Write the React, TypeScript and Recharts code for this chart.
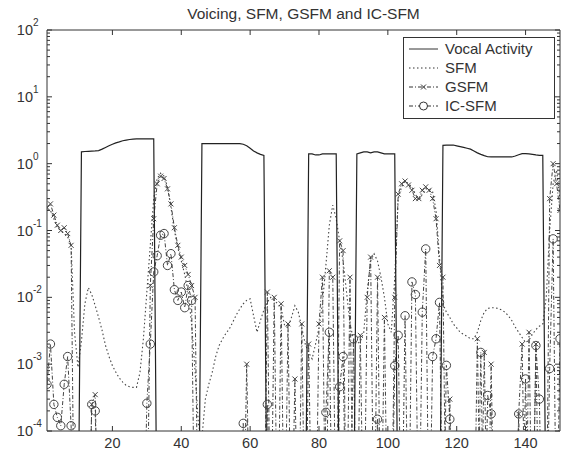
import React from 'react';
import { LineChart, Line, XAxis, YAxis } from 'recharts';

// values below the 1e-4 floor are drawn off the bottom of the plot
const L = 1e-6;

const frames = Array.from({ length: 150 }, (_, i) => i + 1);

const vocalActivity = [
  L, L, L, L, L, L, L, L, L, L,
  1.5, 1.52, 1.53, 1.54, 1.55, 1.57, 1.65, 1.75, 1.85, 1.95,
  2.05, 2.12, 2.2, 2.25, 2.3, 2.33, 2.35, 2.35, 2.35, 2.35,
  2.35, 2.35, L, L, L, L, L, L, L, L,
  L, L, L, L, L, 2.0, 2.0, 2.0, 2.0, 2.0,
  2.0, 2.0, 2.0, 2.0, 2.0, 2.0, 2.0, 1.95, 1.85, 1.7,
  1.55, 1.45, 1.38, 1.33, L, L, L, L, L, L,
  L, L, L, L, L, L, 1.4, 1.4, 1.35, 1.35,
  1.4, 1.4, 1.4, 1.4, 1.4, L, L, L, L, L,
  1.4, 1.45, 1.5, 1.5, 1.45, 1.5, 1.5, 1.45, 1.4, 1.4,
  1.4, 1.4, L, L, L, L, L, L, L, L,
  L, L, L, L, L, 1.88, 1.9, 1.9, 1.9, 1.85,
  1.8, 1.75, 1.7, 1.65, 1.55, 1.45, 1.38, 1.32, 1.27, 1.26,
  1.26, 1.26, 1.26, 1.26, 1.26, 1.26, 1.3, 1.36, 1.41, 1.41,
  1.4, 1.38, 1.35, 1.33, 1.33, L, L, L, L, L,
];

const sfm = [
  0.2, 0.2, 0.15, 0.11, 0.1, 0.09, 0.08, 0.06, 0.003, 9e-4,
  2.2e-3, 8e-3, 0.014, 0.011, 0.0075, 0.005, 0.0032, 0.0019, 0.0013, 9.5e-4,
  7.6e-4, 6.2e-4, 5.4e-4, 4.8e-4, 4.6e-4, 4.5e-4, 4.5e-4, 7.5e-4, 2.4e-3, 0.012,
  0.06, 0.3, 0.6, 0.72, 0.65, 0.45, 0.22, 0.1, 0.055, 0.035,
  0.022, 0.012, 0.004, 8e-4, 1.2e-4, 8e-5, 3e-4, 5e-4, 7.6e-4, 1.3e-3,
  1.9e-3, 2.4e-3, 2.9e-3, 3.4e-3, 4.3e-3, 5.5e-3, 6.7e-3, 8e-3, 9e-3, 9.5e-3,
  5.3e-3, 3e-3, 4.5e-3, 6.5e-3, 8.5e-3, 0.01, 9e-3, 8e-3, 7e-3, 3.8e-3,
  3.5e-3, 5e-3, 7.5e-3, 6e-3, 3.5e-3, 2e-3, 1.5e-3, 1.2e-3, 2e-3, 3.5e-3,
  8e-3, 0.03, 0.12, 0.24, 0.15, 0.07, 0.035, 0.012, 4e-3, 2.4e-3,
  2e-3, 2.2e-3, 3e-3, 0.012, 0.035, 0.045, 0.035, 0.02, 0.01, 4e-3,
  3e-3, 0.02, 0.3, 0.45, 0.55, 0.5, 0.45, 0.35, 0.28, 0.35,
  0.42, 0.42, 0.38, 0.2, 0.04, 8e-3, 6e-3, 5e-3, 4e-3, 3.5e-3,
  3e-3, 2.8e-3, 2.6e-3, 2.4e-3, 2.4e-3, 3e-3, 4.5e-3, 6e-3, 6.8e-3, 7e-3,
  7e-3, 6.8e-3, 6.5e-3, 6e-3, 5.3e-3, 4.5e-3, 3.6e-3, 3e-3, 2.5e-3, 2.1e-3,
  2.3e-3, 2.8e-3, 3.3e-3, 3.7e-3, 4e-3, 0.01, 0.1, 0.5, 0.8, 0.3,
];

const gsfm = [
  0.22, 0.25, 0.17, 0.12, 0.1, 0.11, 0.09, 0.06, L, L,
  L, L, L, 2.5e-4, 3.5e-4, L, L, L, L, L,
  L, L, L, L, L, L, L, L, L, L,
  0.015, 0.15, 0.5, 0.65, 0.6, 0.42, 0.25, 0.11, 0.06, 0.04,
  0.03, 0.022, 0.015, 0.01, L, L, L, L, L, L,
  L, L, L, L, L, L, L, L, 1e-3, L,
  L, L, L, L, 0.012, L, 0.01, L, 0.008, L,
  0.004, L, 6e-4, L, 0.004, L, 2e-3, L, L, 0.004,
  0.02, L, 0.025, 0.02, L, 0.07, 0.05, L, 0.02, L,
  L, 2.7e-3, L, 0.01, 0.04, L, 0.02, L, 5e-3, L,
  L, 0.01, 0.35, 0.5, 0.55, 0.48, 0.4, 0.3, 0.3, 0.4,
  0.45, 0.4, 0.3, 0.15, 0.03, 0.02, L, 3e-4, L, L,
  L, L, L, L, L, 2.4e-3, L, 1.5e-3, L, 1e-3,
  L, L, L, L, L, L, L, 1.8e-4, 2e-3, L,
  3e-3, L, 2e-3, L, L, L, 0.3, 1.0, 0.5, 0.2,
];

const icSfm = [
  5e-4, 2e-3, 2.5e-4, 1.6e-4, 1.2e-4, 5e-4, 1.3e-3, 1.2e-4, L, L,
  L, L, L, 2.5e-4, 2e-4, L, L, L, L, L,
  L, L, L, L, L, L, L, L, L, 2.6e-4,
  2e-3, 0.024, 0.042, 0.085, 0.09, 0.03, 0.045, 0.013, 0.009, 0.012,
  0.007, 0.015, 0.009, L, L, L, L, L, L, L,
  L, L, L, L, L, L, L, 1.3e-4, L, L,
  L, L, L, L, 2.5e-4, L, L, L, L, L,
  L, L, L, L, L, L, L, L, L, L,
  L, 1.9e-4, 3e-3, L, L, 4.6e-4, 1.3e-3, L, L, 2.4e-3,
  L, L, L, L, L, L, 1.5e-4, L, L, L,
  L, 9.5e-4, 2.7e-3, L, 5.3e-3, L, 0.017, 0.011, L, 6e-3,
  0.053, L, 1.3e-3, 2.4e-3, 8.4e-3, L, 9.6e-4, 1.5e-4, L, L,
  L, L, L, L, L, L, 1.5e-3, L, 3.4e-4, 1.8e-4,
  L, L, L, L, L, L, L, 1.8e-4, L, 6e-4,
  L, L, 1.9e-3, 3e-4, L, L, 8.6e-4, 0.075, L, 2.4e-3,
];

const xTicks = [20, 40, 60, 80, 100, 120, 140];
const decades = [1e-4, 1e-3, 1e-2, 1e-1, 1, 10, 100];
const yTicks = decades.concat(
  decades.slice(0, -1).flatMap((d) => [2, 3, 4, 5, 6, 7, 8, 9].map((m) => m * d))
);

const data = frames.map((x, i) => ({
  x,
  va: vocalActivity[i],
  sfm: sfm[i],
  gsfm: gsfm[i],
  ic: icSfm[i],
}));

const FONT = '"Liberation Sans", Arial, Helvetica, sans-serif';
const INK = '#333';

const isMajor = (v: number) => Math.abs(Math.log10(v) - Math.round(Math.log10(v))) < 1e-6;

const LeftTick = (props: any) => {
  const { x, y, payload } = props;
  const v = payload.value;
  const major = isMajor(v);
  return (
    <g>
      <line x1={x} x2={x + (major ? 5 : 3)} y1={y} y2={y} stroke={INK} strokeWidth={1} />
      {major && (
        <g fill={INK} fontFamily={FONT}>
          <text x={x - 14} y={y + 5} textAnchor="end" fontSize={14.5}>10</text>
          <text x={x - 14} y={y - 4} textAnchor="start" fontSize={10}>
            {Math.round(Math.log10(v))}
          </text>
        </g>
      )}
    </g>
  );
};

const RightTick = (props: any) => {
  const { x, y, payload } = props;
  const major = isMajor(payload.value);
  return <line x1={x} x2={x - (major ? 5 : 3)} y1={y} y2={y} stroke={INK} strokeWidth={1} />;
};

const BottomTick = (props: any) => {
  const { x, y, payload } = props;
  return (
    <g>
      <line x1={x} x2={x} y1={y} y2={y - 5} stroke={INK} strokeWidth={1} />
      <text x={x} y={y + 17} textAnchor="middle" fontSize={14.5} fontFamily={FONT} fill={INK}>
        {payload.value}
      </text>
    </g>
  );
};

const TopTick = (props: any) => {
  const { x, y } = props;
  return <line x1={x} x2={x} y1={y} y2={y + 5} stroke={INK} strokeWidth={1} />;
};

const crossDot = (props: any) => {
  const { cx, cy, index } = props;
  if (cx == null || cy == null || !isFinite(cy)) return <g key={`gx-${index}`} />;
  return (
    <path
      key={`gx-${index}`}
      d={`M${cx - 2.5},${cy - 2.5}L${cx + 2.5},${cy + 2.5}M${cx - 2.5},${cy + 2.5}L${cx + 2.5},${cy - 2.5}`}
      stroke="#444"
      strokeWidth={1}
      fill="none"
    />
  );
};

const circleDot = (props: any) => {
  const { cx, cy, index } = props;
  if (cx == null || cy == null || !isFinite(cy)) return <g key={`ic-${index}`} />;
  return <circle key={`ic-${index}`} cx={cx} cy={cy} r={4.2} fill="none" stroke="#444" strokeWidth={1} />;
};

const legendRows = [
  { label: 'Vocal Activity', dash: undefined, marker: null },
  { label: 'SFM', dash: '1.5 2.5', marker: null },
  { label: 'GSFM', dash: '4 2 1 2', marker: 'x' },
  { label: 'IC-SFM', dash: '4 2 1 2', marker: 'o' },
];

const LegendBox = () => (
  <div
    style={{
      position: 'absolute',
      left: 403,
      top: 37,
      width: 152,
      height: 82,
      border: `1px solid ${INK}`,
      background: '#fff',
      boxSizing: 'border-box',
      fontFamily: FONT,
      fontSize: 15,
      color: INK,
    }}
  >
    {legendRows.map((r, i) => (
      <div key={r.label} style={{ position: 'absolute', left: 0, top: 2 + i * 19, height: 18, width: 150 }}>
        <svg width={40} height={18} style={{ position: 'absolute', left: 0, top: 0 }}>
          <line x1={5} x2={34} y1={9} y2={9} stroke={INK} strokeWidth={1} strokeDasharray={r.dash} />
          {r.marker === 'x' && <path d="M17,6.5L22,11.5M17,11.5L22,6.5" stroke={INK} fill="none" />}
          {r.marker === 'o' && <circle cx={19.5} cy={9} r={4} fill="#fff" stroke={INK} />}
        </svg>
        <span style={{ position: 'absolute', left: 41, top: 0, lineHeight: '18px', whiteSpace: 'nowrap' }}>
          {r.label}
        </span>
      </div>
    ))}
  </div>
);

export default function App() {
  return (
    <div style={{ position: 'absolute', left: 0, top: 0, width: 571, height: 451, background: '#fff' }}>
      <div
        style={{
          position: 'absolute',
          left: 47,
          width: 513,
          top: 5,
          textAlign: 'center',
          fontFamily: FONT,
          fontSize: 15.5,
          color: INK,
        }}
      >
        Voicing, SFM, GSFM and IC-SFM
      </div>
      <LineChart width={571} height={451} data={data} margin={{ top: 0, right: 0, bottom: 0, left: 0 }}>
        <XAxis
          dataKey="x"
          type="number"
          domain={[1, 150]}
          allowDataOverflow
          ticks={xTicks}
          interval={0}
          height={20}
          tickSize={0}
          tickMargin={0}
          tickLine={false}
          axisLine={{ stroke: INK }}
          tick={(p: any) => <BottomTick {...p} />}
        />
        <XAxis
          xAxisId="top"
          orientation="top"
          dataKey="x"
          type="number"
          domain={[1, 150]}
          allowDataOverflow
          ticks={xTicks}
          interval={0}
          height={30}
          tickSize={0}
          tickMargin={0}
          tickLine={false}
          axisLine={{ stroke: INK }}
          tick={(p: any) => <TopTick {...p} />}
        />
        <YAxis
          scale="log"
          type="number"
          domain={[1e-4, 100]}
          allowDataOverflow
          ticks={yTicks}
          interval={0}
          width={47}
          tickSize={0}
          tickMargin={0}
          tickLine={false}
          axisLine={{ stroke: INK }}
          tick={(p: any) => <LeftTick {...p} />}
        />
        <YAxis
          yAxisId="right"
          orientation="right"
          scale="log"
          type="number"
          domain={[1e-4, 100]}
          allowDataOverflow
          ticks={yTicks}
          interval={0}
          width={11}
          tickSize={0}
          tickMargin={0}
          tickLine={false}
          axisLine={{ stroke: INK }}
          tick={(p: any) => <RightTick {...p} />}
        />
        <Line
          dataKey="sfm"
          type="linear"
          stroke="#444"
          strokeWidth={1.1}
          strokeDasharray="1.5 2.5"
          dot={false}
          isAnimationActive={false}
        />
        <Line
          dataKey="gsfm"
          type="linear"
          stroke="#444"
          strokeWidth={1}
          strokeDasharray="4 2 1 2"
          dot={crossDot}
          isAnimationActive={false}
        />
        <Line
          dataKey="ic"
          type="linear"
          stroke="#444"
          strokeWidth={1}
          strokeDasharray="4 2 1 2"
          dot={circleDot}
          isAnimationActive={false}
        />
        <Line
          dataKey="va"
          type="linear"
          stroke="#222"
          strokeWidth={1.2}
          dot={false}
          isAnimationActive={false}
        />
      </LineChart>
      <LegendBox />
    </div>
  );
}
